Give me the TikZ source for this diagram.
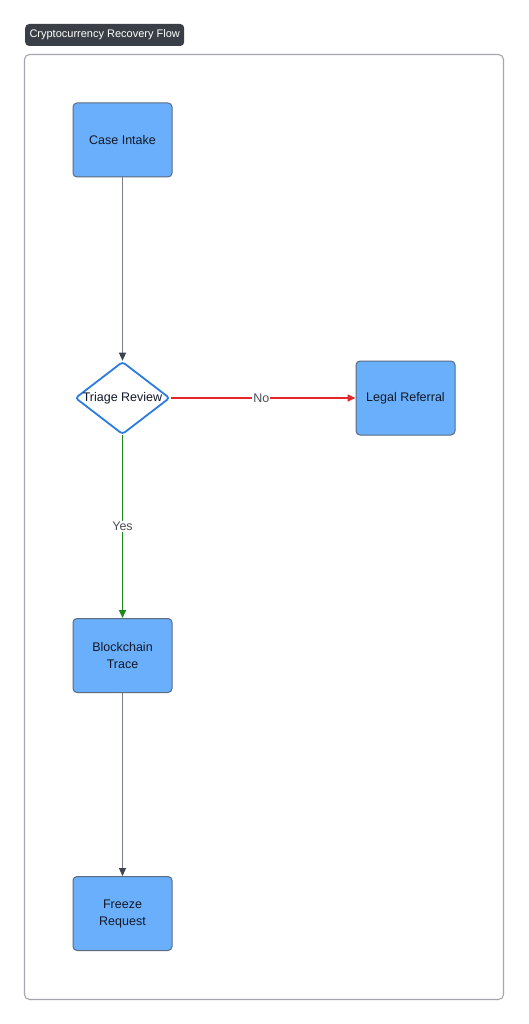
\documentclass[tikz,border=0pt]{standalone}
\usepackage{fontspec}
\setmainfont{Liberation Sans}
\usetikzlibrary{shapes.geometric,arrows.meta}
\definecolor{nodefill}{HTML}{6AAFFB}
\definecolor{nodeedge}{HTML}{5C6B80}
\definecolor{diaedge}{HTML}{2B7BE0}
\definecolor{tagfill}{HTML}{3A3F47}
\definecolor{framecol}{HTML}{A3A7AD}
\definecolor{edgegray}{HTML}{7A7F87}
\definecolor{tipgray}{HTML}{3D4450}
\definecolor{redge}{HTML}{E6262B}
\definecolor{gedge}{HTML}{1C8A1F}
\definecolor{labgray}{HTML}{4A4F57}
\definecolor{txt}{HTML}{111827}
\tikzset{
  x=1pt,y=-1pt,
  box/.style={draw=nodeedge,fill=nodefill,rounded corners=4pt,line width=1pt,
    minimum width=99pt,minimum height=74pt,inner sep=2pt,align=center,
    text=txt,font=\fontsize{12.5}{17}\selectfont},
  dia/.style={draw=diaedge,fill=white,diamond,aspect=1.3,line width=1.8pt,
    minimum width=94pt,minimum height=72pt,inner sep=0pt,rounded corners=3pt,
    text=txt,font=\fontsize{12.5}{15}\selectfont},
  conn/.style={draw=edgegray,line width=1.1pt,-{Triangle[length=8pt,width=7pt,color=tipgray]}},
  noconn/.style={draw=redge,line width=1.6pt,-{Triangle[length=8pt,width=7pt,color=redge]}},
  yesconn/.style={draw=gedge,line width=1.9pt,-{Triangle[length=8pt,width=7pt,color=gedge]}},
  elab/.style={fill=white,text=labgray,inner sep=1pt,font=\fontsize{12.5}{14}\selectfont},
}
\begin{document}
\begin{tikzpicture}
\useasboundingbox (0,0) rectangle (528,1024);
\fill[white] (0,0) rectangle (528,1024);
% frame
\draw[framecol,line width=1.1pt,rounded corners=5pt] (24.5,54.5) rectangle (503.5,999.5);
% title tag
\node[fill=tagfill,rounded corners=4pt,text=white,font=\fontsize{11}{12}\selectfont,
  minimum width=159pt,minimum height=22pt,inner sep=0pt,anchor=west] (title) at (25,35) {Cryptocurrency Recovery Flow};
% nodes
\node[box] (intake) at (122.5,140) {Case Intake};
\node[dia] (triage) at (122.5,398) {Triage Review};
\node[box] (legal) at (405.5,398) {Legal Referral};
\node[box] (trace) at (122.5,655.5) {Blockchain\\Trace};
\node[box] (freeze) at (122.5,913.5) {Freeze\\Request};
% connectors
\draw[conn] (intake) -- (triage);
\draw[noconn] (triage.east) -- node[elab,pos=0.49]{No} (legal.west);
\draw[yesconn] (triage.south) -- node[elab,pos=0.5]{Yes} (trace.north);
\draw[conn] (trace) -- (freeze);
\end{tikzpicture}
\end{document}
